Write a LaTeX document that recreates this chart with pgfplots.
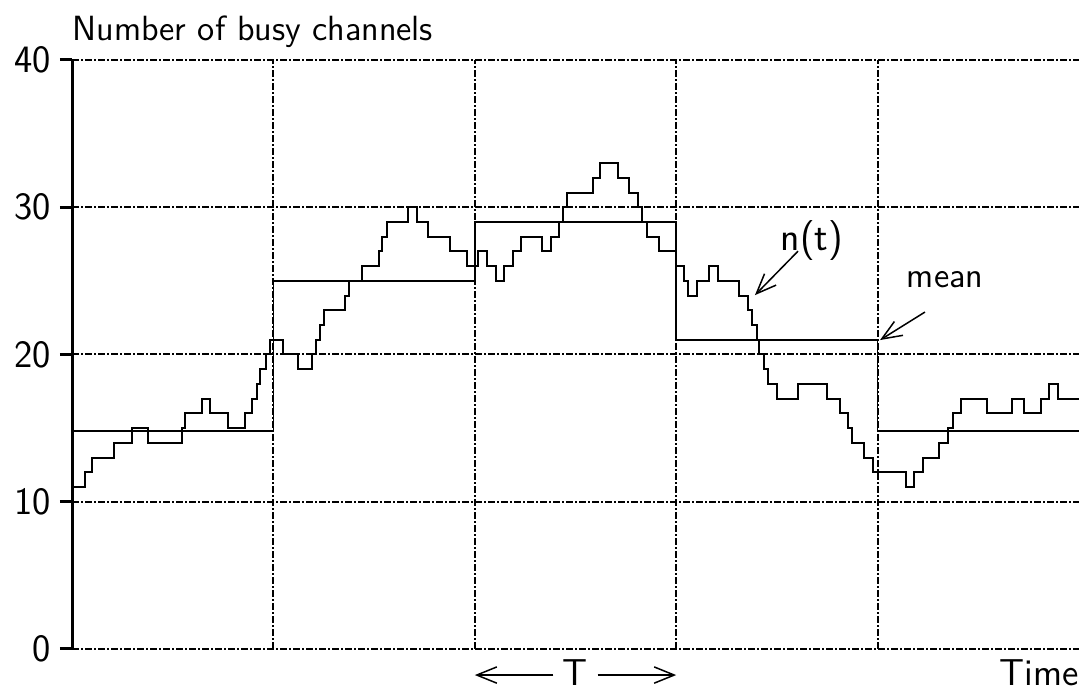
\documentclass[border=0pt]{standalone}
\usepackage{pgfplots}
\pgfplotsset{compat=1.18}
\usetikzlibrary{arrows.meta}
\renewcommand{\familydefault}{\sfdefault}

% number of busy channels (time in units of T)
\pgfplotstableread{
t      n
0      11
0.065  12
0.101  13
0.210  14
0.296  15
0.376  14
0.545  15
0.561  16
0.647  17
0.685  16
0.773  15
0.859  16
0.892  17
0.917  18
0.934  19
0.962  20
0.983  21
1.049  20
1.124  19
1.190  20
1.210  21
1.231  22
1.253  23
1.356  24
1.375  25
1.438  26
1.524  27
1.541  28
1.563  29
1.670  30
1.711  29
1.769  28
1.877  27
1.963  26
2.017  27
2.062  26
2.105  25
2.146  26
2.188  27
2.229  28
2.332  27
2.378  28
2.420  29
2.436  30
2.456  31
2.585  32
2.622  33
2.709  32
2.767  31
2.812  30
2.832  29
2.853  28
2.916  27
3.000  26
3.040  25
3.057  24
3.102  25
3.164  26
3.209  25
3.313  24
3.355  23
3.375  22
3.400  21
3.413  20
3.436  19
3.457  18
3.499  17
3.606  18
3.750  17
3.813  16
3.852  15
3.871  14
3.932  13
3.979  12
4.141  11
4.182  12
4.224  13
4.306  14
4.351  15
4.373  16
4.414  17
4.542  16
4.666  17
4.729  16
4.811  17
4.851  18
4.897  17
5.000  17
}\busy

\pgfplotstableread{
t  m
0  14.8
1  25
2  29
3  21
4  14.8
5  14.8
}\means

\begin{document}
\begin{tikzpicture}[
  lbl/.style={font=\fontsize{14}{17}\selectfont},
  barb/.style={line width=0.6pt, -{Straight Barb[length=8pt,width=6.5pt]}}
]
\begin{axis}[
  name=ax,
  scale only axis,
  width=402.8pt, height=235.6pt,
  xmin=0, xmax=5, ymin=0, ymax=40,
  axis lines=left,
  axis line style={-},
  x axis line style={draw=none},
  y axis line style={line width=1.2pt},
  xtick={1,2,3,4}, xticklabels={},
  x tick style={draw=none},
  ytick={0,10,20,30,40},
  y tick style={line width=1.2pt, black},
  tick align=outside,
  major tick length=4.8pt,
  xmajorgrids, ymajorgrids,
  grid style={black, line width=0.8pt, dash pattern=on 2.8pt off 0.9pt on 0.6pt off 0.9pt},
  tick label style={font=\fontsize{15.5}{18}\selectfont},
  /pgf/number format/assume math mode=true,
  clip=false,
]
\addplot[const plot, black, line width=0.8pt] table[x=t, y=n] {\busy};
\addplot[const plot, black, line width=0.7pt] table[x=t, y=m] {\means};

\node[lbl, anchor=base west, inner sep=0] at (axis cs:0,41.35) {Number of busy channels};
\node[font=\fontsize{16}{19}\selectfont] at (axis cs:3.674,27.77) {n(t)};
\draw[barb] (axis cs:3.605,27.02) -- (axis cs:3.391,24.03);
\node[lbl] at (axis cs:4.335,25.05) {mean};
\draw[barb] (axis cs:4.235,22.88) -- (axis cs:4.012,20.98);
\node[font=\fontsize{15}{18}\selectfont, anchor=base, inner sep=0] at (axis cs:2.5,-2.5) {T};
\draw[barb] (axis cs:2.39,-1.77) -- (axis cs:2.0,-1.77);
\draw[barb] (axis cs:2.61,-1.77) -- (axis cs:3.0,-1.77);
\node[font=\fontsize{15}{18}\selectfont, anchor=base east, inner sep=0] at (axis cs:5,-2.5) {Time};
\end{axis}
\pgfresetboundingbox
\path ([shift={(-28.8pt,-16.4pt)}]ax.south west) rectangle ([shift={(0pt,24pt)}]ax.north east);
\end{tikzpicture}
\end{document}
